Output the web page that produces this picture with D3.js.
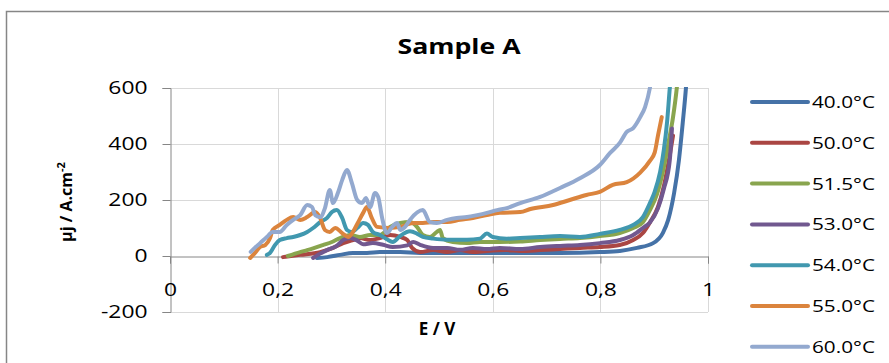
<!DOCTYPE html>
<html>
<head>
<meta charset="utf-8">
<script src="https://cdn.jsdelivr.net/npm/d3@7"></script>
<style>
  body { margin: 0; background: #fff; }
  svg text { font-family: "Open Sans", sans-serif; fill: #000; }
</style>
</head>
<body>
<svg id="chart"></svg>
<script>
// series: [E (V), j]
const s40 = [[0.273,-7],[0.292,-4],[0.316,4],[0.340,11],[0.366,11],[0.390,14],[0.428,14],[0.465,11],[0.515,11],[0.563,11],[0.613,11],[0.651,11],[0.725,11],[0.799,14],[0.836,18],[0.868,29],[0.898,46],[0.916,82],[0.926,129],[0.937,225],[0.946,343],[0.953,475],[0.959,600],[0.962,680]];
const s50 = [[0.210,-4],[0.242,4],[0.279,14],[0.303,29],[0.322,46],[0.340,57],[0.353,64],[0.372,57],[0.390,64],[0.409,75],[0.428,68],[0.441,57],[0.450,29],[0.465,14],[0.489,21],[0.515,14],[0.539,21],[0.563,14],[0.589,18],[0.626,21],[0.651,18],[0.688,21],[0.725,25],[0.762,29],[0.799,32],[0.836,39],[0.861,57],[0.879,82],[0.892,120],[0.907,175],[0.918,250],[0.929,360],[0.935,430]];
const s515 = [[0.219,0],[0.242,14],[0.255,21],[0.270,30],[0.284,39],[0.301,50],[0.316,64],[0.335,75],[0.353,68],[0.372,75],[0.390,75],[0.409,104],[0.428,118],[0.446,121],[0.459,104],[0.470,75],[0.483,68],[0.496,86],[0.502,93],[0.507,64],[0.526,50],[0.552,46],[0.576,50],[0.613,50],[0.651,52],[0.688,57],[0.725,61],[0.762,64],[0.799,71],[0.836,82],[0.861,100],[0.879,121],[0.892,164],[0.905,220],[0.916,300],[0.926,400],[0.935,496],[0.942,600],[0.946,680]];
const s53 = [[0.266,-7],[0.275,4],[0.292,21],[0.310,36],[0.322,57],[0.335,64],[0.348,55],[0.359,42],[0.377,46],[0.396,40],[0.414,32],[0.441,38],[0.452,50],[0.465,40],[0.489,29],[0.515,29],[0.539,22],[0.563,29],[0.589,25],[0.613,29],[0.651,25],[0.688,32],[0.725,36],[0.762,39],[0.799,46],[0.836,57],[0.861,75],[0.879,100],[0.892,120],[0.907,170],[0.918,240],[0.929,343],[0.933,455]];
const s54 = [[0.180,4],[0.186,11],[0.195,39],[0.204,57],[0.217,64],[0.229,68],[0.242,75],[0.255,86],[0.266,100],[0.279,121],[0.292,136],[0.301,157],[0.310,164],[0.320,136],[0.329,93],[0.338,86],[0.348,100],[0.359,118],[0.368,111],[0.377,86],[0.390,75],[0.403,60],[0.414,50],[0.428,72],[0.446,88],[0.459,80],[0.470,68],[0.489,62],[0.515,58],[0.552,58],[0.576,62],[0.589,80],[0.600,68],[0.626,62],[0.651,64],[0.688,68],[0.725,71],[0.762,68],[0.799,79],[0.836,93],[0.861,111],[0.879,139],[0.892,189],[0.901,230],[0.911,300],[0.918,380],[0.924,480],[0.929,600],[0.933,680]];
const s55 = [[0.149,-7],[0.158,11],[0.167,32],[0.177,39],[0.186,64],[0.191,93],[0.204,111],[0.217,129],[0.229,139],[0.242,129],[0.255,139],[0.270,157],[0.279,136],[0.288,93],[0.297,86],[0.307,100],[0.320,82],[0.331,68],[0.340,86],[0.349,118],[0.359,154],[0.366,175],[0.375,136],[0.385,104],[0.409,100],[0.428,104],[0.452,118],[0.470,118],[0.489,121],[0.515,121],[0.539,129],[0.563,136],[0.589,146],[0.613,154],[0.651,157],[0.670,168],[0.712,182],[0.743,200],[0.774,218],[0.799,229],[0.823,254],[0.849,264],[0.874,298],[0.892,340],[0.901,370],[0.907,430],[0.914,496]];
const s60 = [[0.150,15],[0.158,30],[0.167,45],[0.180,68],[0.191,86],[0.204,86],[0.217,111],[0.229,129],[0.242,146],[0.255,182],[0.264,175],[0.270,146],[0.279,139],[0.288,171],[0.297,236],[0.303,189],[0.312,225],[0.320,271],[0.329,307],[0.338,261],[0.348,200],[0.357,189],[0.364,207],[0.372,175],[0.381,225],[0.387,211],[0.394,139],[0.403,82],[0.413,104],[0.422,118],[0.428,93],[0.437,104],[0.446,129],[0.470,164],[0.483,121],[0.496,118],[0.515,129],[0.533,136],[0.552,139],[0.571,146],[0.589,154],[0.608,164],[0.626,171],[0.651,189],[0.688,211],[0.725,243],[0.762,278],[0.799,325],[0.818,368],[0.836,404],[0.849,443],[0.861,457],[0.874,496],[0.883,532],[0.892,600],[0.897,660]];

const seriesNames = ['40.0°C','50.0°C','51.5°C','53.0°C','54.0°C','55.0°C','60.0°C'];
const seriesData = [s40, s50, s515, s53, s54, s55, s60];
const colors = ['#4572A7','#AA4643','#89A54E','#71588F','#4198AF','#DB843D','#93A9CF'];
const xTicks = [0, 0.2, 0.4, 0.6, 0.8, 1];
const yTicks = [-200, 0, 200, 400, 600];

const width = 889, height = 363;
const plot = {left: 170, right: 708, top: 88, bottom: 312};
const stretch = 1.27;  // the source picture is widened a little

const svg = d3.select('#chart').attr('width', width).attr('height', height);

// outer chart frame
svg.append('rect')
  .attr('x', 6.5).attr('y', 11.5)
  .attr('width', 900).attr('height', 400)
  .attr('fill', '#fff').attr('stroke', '#868686').attr('stroke-width', 1.5);

const x = d3.scaleLinear().domain([0, 1]).range([plot.left, plot.right]);
const y = d3.scaleLinear().domain([-200, 600]).range([plot.bottom, plot.top]);

// gridlines
svg.append('g')
  .selectAll('line').data(yTicks.filter(d => d !== 0)).enter()
  .append('line')
  .attr('x1', plot.left).attr('x2', plot.right)
  .attr('y1', d => Math.round(y(d)) + 0.5).attr('y2', d => Math.round(y(d)) + 0.5)
  .attr('stroke', '#d9d9d9');
svg.append('g')
  .selectAll('line').data(xTicks.filter(d => d !== 0)).enter()
  .append('line')
  .attr('x1', d => Math.round(x(d)) + 0.5).attr('x2', d => Math.round(x(d)) + 0.5)
  .attr('y1', plot.top).attr('y2', plot.bottom)
  .attr('stroke', '#d9d9d9');

// y axis
const yAxis = svg.append('g')
  .attr('transform', `translate(${plot.left + 0.5},0)`)
  .call(d3.axisLeft(y).tickValues(yTicks).tickSize(8).tickFormat(d => String(d)));
yAxis.select('.domain').attr('stroke', '#868686');
yAxis.selectAll('.tick line').attr('stroke', '#868686');
yAxis.selectAll('text')
  .attr('font-size', 18).attr('font-family', 'Open Sans').attr('fill', '#000')
  .attr('x', -23 / stretch)
  .attr('transform', `scale(${stretch},1)`);

// x axis at j = 0
const xAxis = svg.append('g')
  .attr('transform', `translate(0,${Math.round(y(0)) + 0.5})`)
  .call(d3.axisBottom(x).tickValues(xTicks).tickSize(7).tickPadding(20)
    .tickFormat(d => String(d).replace('.', ',')));
xAxis.select('.domain').attr('stroke', '#868686');
xAxis.selectAll('.tick line').attr('stroke', '#868686');
xAxis.selectAll('text')
  .attr('font-size', 18).attr('font-family', 'Open Sans').attr('fill', '#000')
  .attr('transform', `scale(${stretch},1)`);

// curves
svg.append('clipPath').attr('id', 'clip')
  .append('rect').attr('x', plot.left).attr('y', plot.top - 1)
  .attr('width', plot.right - plot.left + 2).attr('height', plot.bottom - plot.top);

const line = d3.line().x(d => x(d[0])).y(d => y(d[1])).curve(d3.curveMonotoneX);
svg.append('g').attr('clip-path', 'url(#clip)')
  .selectAll('path').data(seriesData).enter()
  .append('path')
  .attr('d', line)
  .attr('fill', 'none')
  .attr('stroke', (d, i) => colors[i])
  .attr('stroke-width', 4)
  .attr('stroke-linejoin', 'round')
  .attr('stroke-linecap', 'round');

// title and axis titles
svg.append('text')
  .attr('transform', `translate(459,54) scale(${stretch},1)`)
  .attr('text-anchor', 'middle').attr('font-size', 21).attr('font-weight', 'bold')
  .text('Sample A');
svg.append('text').attr('x', 437).attr('y', 335)
  .attr('text-anchor', 'middle').attr('font-size', 17).attr('font-weight', 'bold')
  .text('E / V');
svg.append('text')
  .attr('transform', 'translate(72,202) rotate(-90)')
  .attr('text-anchor', 'middle').attr('font-size', 16).attr('font-weight', 'bold')
  .html('µj / A.cm<tspan dy="-7" font-size="11">-2</tspan>');

// legend
const legend = svg.append('g').selectAll('g').data(seriesNames).enter()
  .append('g')
  .attr('transform', (d, i) => `translate(752,${102 + i * 40.8})`);
legend.append('line')
  .attr('x1', 0).attr('x2', 56).attr('y1', 0).attr('y2', 0)
  .attr('stroke', (d, i) => colors[i]).attr('stroke-width', 4)
  .attr('stroke-linecap', 'round');
legend.append('text')
  .attr('transform', `translate(60,6) scale(1.22,1)`)
  .attr('font-size', 17)
  .text(d => d);
</script>
</body>
</html>
